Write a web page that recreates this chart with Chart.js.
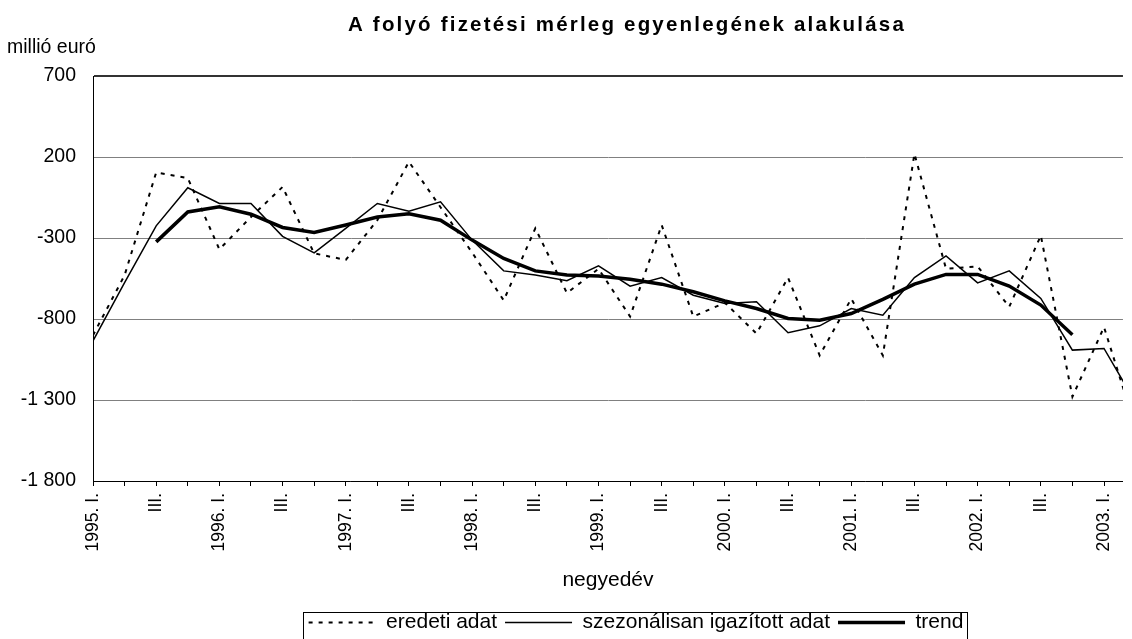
<!DOCTYPE html>
<html>
<head>
<meta charset="utf-8">
<script src="https://cdn.jsdelivr.net/npm/chart.js@4"></script>
<style>
  html, body { margin: 0; padding: 0; background: #fff; overflow: hidden; }
  canvas { display: block; }
</style>
</head>
<body>
<canvas id="chart" width="1132" height="639"></canvas>
<script>
// quarters 1995. I. .. 2003. II.
const quarters = [
  '1995. I.', '1995. II.', '1995. III.', '1995. IV.',
  '1996. I.', '1996. II.', '1996. III.', '1996. IV.',
  '1997. I.', '1997. II.', '1997. III.', '1997. IV.',
  '1998. I.', '1998. II.', '1998. III.', '1998. IV.',
  '1999. I.', '1999. II.', '1999. III.', '1999. IV.',
  '2000. I.', '2000. II.', '2000. III.', '2000. IV.',
  '2001. I.', '2001. II.', '2001. III.', '2001. IV.',
  '2002. I.', '2002. II.', '2002. III.', '2002. IV.',
  '2003. I.', '2003. II.'
];

const tickLabels = [
  '1995. I.', '', 'III.', '', '1996. I.', '', 'III.', '', '1997. I.', '', 'III.', '',
  '1998. I.', '', 'III.', '', '1999. I.', '', 'III.', '', '2000. I.', '', 'III.', '',
  '2001. I.', '', 'III.', '', '2002. I.', '', 'III.', '', '2003. I.'
];

const eredeti = [
  -900, -530, 105, 70, -370, -170, 15, -395, -435, -190, 170, -110,
  -390, -685, -240, -640, -490, -785, -220, -785, -700, -890, -545, -1025,
  -675, -1025, 220, -490, -475, -725, -285, -1280, -850, -1470
];

const szezonalis = [
  -935, -575, -225, 10, -87, -87, -290, -392, -241, -87, -135, -77,
  -313, -503, -529, -564, -472, -597, -544, -653, -704, -694, -885, -842,
  -735, -776, -544, -410, -577, -503, -673, -992, -982, -1315
];

const trend = [
  null, null, -324, -139, -108, -153, -235, -266, -220, -170, -150, -190,
  -313, -426, -503, -529, -535, -554, -585, -632, -688, -735, -797, -807,
  -766, -679, -585, -525, -525, -597, -714, -897, null, null
];

const FONT = "'Liberation Sans', Arial, sans-serif";

function points(arr) {
  return arr.map((v, i) => ({ x: i, y: v }));
}

const decor = {
  id: 'decor',
  afterLayout(chart) {
    const lg = chart.legend;
    lg.left += 70; lg.right += 70;
    lg.top += 4; lg.bottom += 4;
  },
  afterDraw(chart) {
    const ctx = chart.ctx;
    ctx.save();
    ctx.fillStyle = '#000';
    ctx.textBaseline = 'middle';
    ctx.font = 'bold 20.5px ' + FONT;
    ctx.letterSpacing = '2.2px';
    ctx.textAlign = 'center';
    ctx.fillText('A folyó fizetési mérleg egyenlegének alakulása', 627, 25);
    ctx.letterSpacing = '0px';
    ctx.font = '19.5px ' + FONT;
    ctx.textAlign = 'left';
    ctx.fillText('millió euró', 7, 48);

    // border round the legend
    const lg = chart.legend;
    const pad = lg.options.labels.padding;
    const x0 = (lg.left + pad + lg.right - lg.lineWidths[0]) / 2;
    const w = lg.lineWidths[0] - pad;
    ctx.strokeStyle = '#000';
    ctx.lineWidth = 1;
    ctx.strokeRect(Math.round(x0 - 6) + 0.5, Math.round(lg.top + pad) + 0.5, Math.round(w + 9), 40);
    ctx.restore();
  }
};

new Chart(document.getElementById('chart'), {
  type: 'line',
  data: {
    datasets: [{
      label: 'eredeti adat',
      data: points(eredeti),
      borderColor: '#000',
      backgroundColor: '#000',
      borderWidth: 2,
      borderDash: [4, 6]
    }, {
      label: 'szezonálisan igazított adat',
      data: points(szezonalis),
      borderColor: '#000',
      backgroundColor: '#000',
      borderWidth: 1.5
    }, {
      label: 'trend',
      data: points(trend),
      borderColor: '#000',
      backgroundColor: '#000',
      borderWidth: 3.5
    }]
  },
  options: {
    responsive: false,
    animation: false,
    events: [],
    layout: { padding: { top: 76, left: 0, right: 0, bottom: 0 } },
    elements: {
      point: { radius: 0 },
      line: { tension: 0, fill: false }
    },
    scales: {
      x: {
        type: 'linear',
        min: 0,
        max: 32.6,
        afterFit: s => { s.height = 119; },
        border: { color: '#000', width: 1 },
        grid: { drawOnChartArea: false, color: '#000', tickLength: 5 },
        ticks: {
          stepSize: 1,
          includeBounds: false,
          autoSkip: false,
          minRotation: 90,
          maxRotation: 90,
          padding: 7,
          color: '#000',
          font: { family: FONT, size: 17.5 },
          callback: v => tickLabels[v] ?? ''
        },
        title: {
          display: true,
          text: 'negyedév',
          color: '#000',
          font: { family: FONT, size: 21 },
          padding: { top: 0, bottom: 7 }
        }
      },
      y: {
        min: -1800,
        max: 700,
        afterFit: s => { s.width = 93; },
        border: { color: '#000', width: 1 },
        grid: {
          drawTicks: false,
          color: c => c.tick && c.tick.value === 700 ? '#333' : '#808080',
          lineWidth: c => c.tick && c.tick.value === 700 ? 2 : 1
        },
        ticks: {
          stepSize: 500,
          padding: 17,
          color: '#000',
          font: { family: FONT, size: 19.5 },
          callback: v => (v < 0 ? '-' : '') + String(Math.abs(v)).replace(/\B(?=(\d{3})+(?!\d))/g, ' ')
        }
      }
    },
    plugins: {
      tooltip: { enabled: false },
      legend: {
        position: 'bottom',
        labels: {
          usePointStyle: true,
          pointStyle: 'line',
          pointStyleWidth: 67,
          padding: 8,
          color: '#000',
          font: { family: FONT, size: 21 },
          // keep the dataset's dash and width on the legend line
          generateLabels: chart => Chart.defaults.plugins.legend.labels.generateLabels(chart).map((item, i) => ({
            ...item,
            lineDash: chart.data.datasets[i].borderDash || [],
            lineWidth: chart.data.datasets[i].borderWidth
          }))
        }
      }
    }
  },
  plugins: [decor]
});
</script>
</body>
</html>
